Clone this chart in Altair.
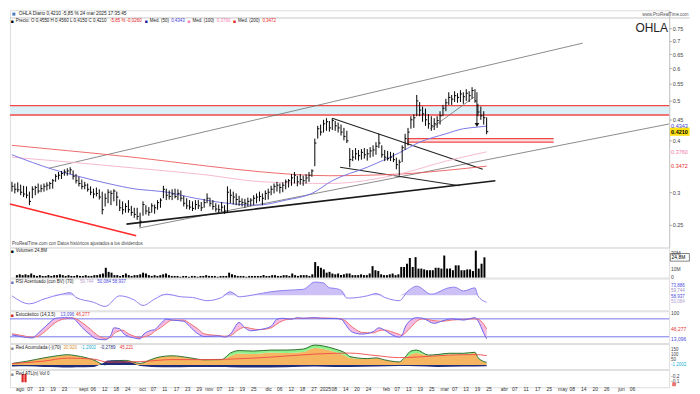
import altair as alt
import pandas as pd

FONT = "Liberation Sans"

# ---------------- price bars (daily, Aug 2024 -> 24 Mar 2025) ----------------
high = [0.318, 0.315, 0.317, 0.313, 0.311, 0.310, 0.301, 0.310, 0.311, 0.315,
        0.313, 0.315, 0.317, 0.318, 0.323, 0.332, 0.336, 0.338, 0.341, 0.343,
        0.345, 0.339, 0.332, 0.327, 0.322, 0.318, 0.315, 0.310, 0.306, 0.308,
        0.305, 0.301, 0.298, 0.305, 0.303, 0.305, 0.301, 0.288, 0.285, 0.282,
        0.287, 0.278, 0.275, 0.275, 0.2675, 0.285, 0.279, 0.276, 0.282, 0.280,
        0.287, 0.290, 0.311, 0.306, 0.303, 0.305, 0.306, 0.305, 0.303, 0.294,
        0.290, 0.287, 0.285, 0.287, 0.287, 0.284, 0.289, 0.298, 0.291, 0.287,
        0.282, 0.280, 0.284, 0.279, 0.310, 0.305, 0.301, 0.298, 0.294, 0.290,
        0.289, 0.291, 0.290, 0.295, 0.298, 0.301, 0.298, 0.303, 0.306, 0.311,
        0.315, 0.318, 0.315, 0.317, 0.322, 0.323, 0.332, 0.336, 0.329, 0.332,
        0.329, 0.332, 0.336, 0.341, 0.405, 0.435, 0.438, 0.450, 0.454, 0.447,
        0.454, 0.447, 0.443, 0.438, 0.430, 0.423, 0.384, 0.380, 0.384, 0.380,
        0.382, 0.384, 0.382, 0.386, 0.390, 0.397, 0.416, 0.390, 0.380, 0.378,
        0.376, 0.374, 0.364, 0.360, 0.390, 0.416, 0.430, 0.459, 0.464, 0.517,
        0.497, 0.4845, 0.479, 0.464, 0.459, 0.454, 0.459, 0.472, 0.489, 0.506,
        0.525, 0.517, 0.528, 0.522, 0.531, 0.525, 0.534, 0.528, 0.540, 0.534,
        0.492, 0.4845, 0.472, 0.456]
low = [0.301, 0.298, 0.300, 0.295, 0.292, 0.290, 0.279, 0.290, 0.295, 0.298,
       0.300, 0.301, 0.303, 0.305, 0.306, 0.318, 0.322, 0.323, 0.329, 0.329,
       0.332, 0.322, 0.315, 0.310, 0.305, 0.305, 0.301, 0.295, 0.290, 0.293,
       0.288, 0.265, 0.277, 0.282, 0.279, 0.285, 0.278, 0.270, 0.265, 0.2675,
       0.2675, 0.263, 0.260, 0.257, 0.247, 0.263, 0.265, 0.263, 0.2675, 0.266,
       0.272, 0.275, 0.290, 0.287, 0.288, 0.287, 0.290, 0.287, 0.285, 0.277,
       0.273, 0.272, 0.270, 0.272, 0.273, 0.270, 0.275, 0.282, 0.277, 0.272,
       0.269, 0.2675, 0.269, 0.266, 0.2675, 0.282, 0.280, 0.279, 0.278, 0.277,
       0.275, 0.277, 0.278, 0.279, 0.282, 0.285, 0.279, 0.287, 0.288, 0.295,
       0.298, 0.301, 0.298, 0.300, 0.305, 0.308, 0.311, 0.315, 0.310, 0.313,
       0.311, 0.315, 0.318, 0.327, 0.347, 0.405, 0.412, 0.419, 0.423, 0.421,
       0.425, 0.423, 0.419, 0.412, 0.401, 0.395, 0.345, 0.357, 0.360, 0.358,
       0.360, 0.362, 0.358, 0.364, 0.366, 0.370, 0.384, 0.364, 0.357, 0.358,
       0.357, 0.355, 0.341, 0.329, 0.355, 0.380, 0.390, 0.428, 0.430, 0.459,
       0.459, 0.445, 0.435, 0.428, 0.423, 0.425, 0.430, 0.438, 0.459, 0.472,
       0.489, 0.489, 0.497, 0.495, 0.497, 0.492, 0.500, 0.497, 0.506, 0.495,
       0.459, 0.450, 0.438, 0.415]
close = [0.310, 0.305, 0.304, 0.300, 0.297, 0.295, 0.285, 0.305, 0.308, 0.302,
         0.306, 0.310, 0.312, 0.315, 0.320, 0.328, 0.330, 0.333, 0.336, 0.338,
         0.340, 0.328, 0.320, 0.315, 0.310, 0.312, 0.305, 0.300, 0.297, 0.298,
         0.292, 0.272, 0.290, 0.300, 0.298, 0.302, 0.292, 0.275, 0.272, 0.277,
         0.272, 0.268, 0.265, 0.262, 0.255, 0.280, 0.270, 0.268, 0.278, 0.275,
         0.283, 0.287, 0.305, 0.295, 0.293, 0.297, 0.293, 0.298, 0.290, 0.282,
         0.278, 0.276, 0.274, 0.280, 0.278, 0.275, 0.283, 0.290, 0.282, 0.277,
         0.273, 0.272, 0.276, 0.270, 0.300, 0.295, 0.292, 0.288, 0.285, 0.283,
         0.282, 0.285, 0.287, 0.290, 0.292, 0.293, 0.290, 0.298, 0.300, 0.305,
         0.310, 0.312, 0.308, 0.312, 0.318, 0.320, 0.325, 0.330, 0.318, 0.322,
         0.320, 0.325, 0.330, 0.338, 0.395, 0.428, 0.420, 0.440, 0.445, 0.430,
         0.448, 0.435, 0.430, 0.420, 0.410, 0.400, 0.360, 0.365, 0.372, 0.368,
         0.375, 0.370, 0.372, 0.378, 0.380, 0.388, 0.395, 0.370, 0.365, 0.362,
         0.365, 0.360, 0.350, 0.355, 0.385, 0.405, 0.420, 0.450, 0.455, 0.500,
         0.475, 0.465, 0.450, 0.440, 0.435, 0.440, 0.448, 0.460, 0.480, 0.495,
         0.510, 0.505, 0.515, 0.510, 0.520, 0.512, 0.522, 0.515, 0.530, 0.500,
         0.470, 0.460, 0.455, 0.421]
volume_m = [3, 4, 3, 4, 3, 5, 3, 2, 3, 2,
            2, 3, 2, 3, 3, 4, 3, 2, 3, 2,
            2, 3, 2, 2, 3, 2, 2, 3, 3, 4,
            5, 12, 7, 6, 3, 3, 2, 3, 5, 3,
            2, 3, 3, 4, 6, 5, 3, 2, 3, 2,
            3, 4, 5, 3, 2, 2, 2, 1, 2, 2,
            1, 2, 2, 1, 2, 2, 3, 2, 2, 2,
            1, 2, 2, 2, 6, 4, 3, 2, 2, 2,
            1, 2, 2, 2, 2, 2, 3, 2, 2, 3,
            3, 2, 2, 3, 3, 2, 5, 3, 2, 3,
            3, 3, 2, 4, 19, 14, 12, 10, 6, 7,
            5, 4, 5, 3, 4, 5, 5, 3, 3, 3,
            4, 3, 3, 5, 14, 9, 8, 4, 3, 3,
            4, 5, 3, 4, 13, 13, 17, 24, 13, 25,
            11, 11, 10, 9, 9, 9, 12, 12, 11, 27,
            11, 11, 9, 15, 15, 9, 9, 10, 10, 8,
            33, 11, 17, 24.8]
N = len(close)
assert len(high) == N and len(low) == N and len(volume_m) == N

# ---------------- moving averages (read at sparse points) ----------------
ma50_idx = [0, 14, 22, 33, 43, 52, 63, 74, 84, 94, 103, 110, 122, 133, 140, 149, 155, 160, 163]
ma50_val = [0.370, 0.341, 0.329, 0.315, 0.305, 0.301, 0.290, 0.282, 0.279, 0.287,
            0.298, 0.320, 0.345, 0.374, 0.397, 0.416, 0.428, 0.432, 0.4343]
ma100_idx = [0, 20, 43, 66, 86, 109, 133, 149, 163]
ma100_val = [0.365, 0.355, 0.343, 0.331, 0.318, 0.315, 0.332, 0.357, 0.376]
ma200_idx = [0, 20, 43, 66, 86, 109, 133, 149, 163]
ma200_val = [0.390, 0.378, 0.364, 0.348, 0.336, 0.329, 0.332, 0.339, 0.3472]

# ---------------- drawn trend lines (bar index, price) ----------------
thin_x0 = [12.67, 43.67, 143.7]
thin_p0 = [0.343, 0.2455, 0.428]
thin_x1 = [196.0, 225.6, 158.7]
thin_p1 = [0.691, 0.4395, 0.511]
wedge_x0 = [110.0, 112.67]
wedge_p0 = [0.454, 0.345]
wedge_x1 = [161.67, 153.67]
wedge_p1 = [0.341, 0.311]
support_x = [39.33, 166.0]
support_p = [0.2509, 0.3198]
down_x = [-0.67, 42.67]
down_p = [0.2809, 0.2351]
resist_levels = [0.487, 0.462]
box_levels = [0.405, 0.397]
box_from, box_to = 136, 186

# ---------------- indicators (read at sparse points) ----------------
rsi_idx = [0, 6, 11, 17, 20, 22, 28, 32, 37, 42, 45, 49, 53, 58, 62, 67, 72, 75, 78, 83,
           89, 94, 100, 104, 107, 109, 111, 113, 115, 116, 122, 125, 128, 133, 136, 139,
           144, 150, 152, 155, 159, 160, 163]
rsi_val = [56.4, 36.2, 48.3, 60.5, 64.4, 52.3, 40.2, 29.7, 56.4, 45.9, 32.1, 48.3, 60.5,
           53.9, 52.3, 44.2, 52.3, 66.8, 53.9, 58.8, 66.8, 70.2, 72.6, 91, 88.6, 76.5, 75,
           70.2, 50.8, 50.8, 56.4, 62, 52.3, 44.2, 68.5, 80.6, 60.5, 76.5, 78.2, 68.5,
           76.5, 56.4, 40.2]

sto_idx = [0, 3, 7, 9, 11, 13, 15, 18, 21, 22, 24, 27, 29, 32, 34, 35, 37, 38, 40, 42,
           44, 45, 48, 49, 51, 53, 55, 59, 61, 64, 66, 71, 73, 75, 78, 80, 82, 85, 89, 91,
           93, 96, 98, 100, 104, 106, 111, 113, 115, 116, 118, 120, 124, 126, 128, 130,
           133, 134, 135, 137, 139, 141, 145, 148, 151, 155, 159, 160, 162, 163]
sto_k = [26, 21, 16, 32, 50, 68, 82, 84, 82, 74, 52, 26, 13, 10, 26, 50, 47, 34, 21, 16,
         13, 26, 42, 44, 63, 79, 76, 72, 55, 29, 21, 23, 19, 29, 68, 50, 40, 44, 55, 79,
         82, 79, 84, 82, 84, 82, 81, 79, 55, 42, 32, 29, 37, 50, 42, 29, 19, 26, 52, 76,
         84, 82, 65, 74, 80, 76, 84, 74, 32, 13.1]
sto_d = [30, 25, 19, 22, 35, 52, 68, 80, 83, 80, 68, 45, 28, 15, 18, 30, 40, 42, 30, 22,
         17, 19, 30, 38, 50, 65, 76, 76, 65, 45, 30, 24, 22, 24, 45, 52, 48, 44, 50, 63,
         74, 80, 82, 82, 83, 83, 82, 80, 70, 60, 45, 35, 33, 40, 43, 38, 28, 25, 32, 52,
         72, 80, 74, 72, 76, 78, 80, 79, 62, 46.3]

ra_idx = [0, 5, 11, 16, 19, 22, 28, 32, 34, 39, 44, 48, 51, 55, 61, 66, 72, 75, 78, 83,
          89, 94, 100, 104, 107, 111, 115, 116, 122, 125, 128, 133, 135, 137, 139, 143,
          146, 150, 155, 159, 160, 163]
ra_orange = [14, 35, 70, 90, 100, 90, 50, 0, 40, 45, 15, 55, 80, 90, 70, 50, 50, 90, 115,
             110, 125, 120, 130, 170, 160, 130, 85, 70, 60, 70, 50, 30, 70, 107, 120, 95,
             95, 107, 107, 120, 70, 25]
ra_green = [16, 38, 72, 95, 104, 94, 52, 2, 42, 47, 17, 58, 83, 93, 73, 53, 55, 120, 145,
            140, 150, 150, 160, 200, 190, 160, 110, 85, 65, 72, 52, 32, 80, 140, 150, 100,
            105, 118, 118, 128, 75, 27]
nv_idx = [0, 5, 11, 16, 19, 22, 28, 31, 33, 36, 39, 42, 44, 48, 55, 61, 66, 72, 75, 83,
          94, 104, 111, 116, 125, 133, 139, 146, 155, 163]
nv_val = [-15, -12, -20, -22, -25, -22, -18, 15, 45, 45, 40, 15, -10, -18, -22, -20, -18,
          -20, -22, -25, -22, -15, -20, -20, -15, -10, -12, -18, -15, -12]
rs_idx = [0, 11, 19, 28, 33, 44, 55, 66, 75, 89, 104, 116, 125, 133, 139, 150, 159, 163]
rs_val = [15, 40, 70, 60, 30, 35, 55, 55, 60, 80, 110, 120, 95, 75, 80, 100, 105, 95]

atl_idx = [2, 3]
atl_val = [1, 1]

price_ticks = [0.25, 0.3, 0.4, 0.45, 0.5, 0.55, 0.6, 0.65, 0.7, 0.75]

# ---------------- date axis labels (trading calendar) ----------------
MONTHS = {8: "ago", 9: "sept", 10: "oct", 11: "nov", 12: "dic", 1: "2025",
          2: "feb", 3: "mar", 4: "abr", 5: "may", 6: "jun", 7: "jul"}
holidays = pd.to_datetime(["2024-12-24", "2024-12-25", "2024-12-26", "2025-01-01",
                           "2025-04-18", "2025-04-21", "2025-05-01"])
days = pd.bdate_range("2024-08-01", "2025-07-31")
days = days[~days.isin(holidays)]
LAST_LABEL = 217
starts = [i for i in range(len(days)) if i == 0 or days[i].month != days[i - 1].month]
lab_idx, lab_txt = [], []
for k, s in enumerate(starts):
    if s > LAST_LABEL:
        break
    nxt = starts[k + 1] if k + 1 < len(starts) else len(days)
    lab_idx.append(s)
    lab_txt.append(MONTHS[days[s].month])
    pos = s + 4
    while pos <= nxt - 3 and pos <= LAST_LABEL:
        lab_idx.append(pos)
        lab_txt.append(f"{days[pos].day:02d}")
        pos += 4

# ---------------- layout helpers (page has an 8px margin: scale the 700x394 design) ----------------
SX = 684 / 700
SY = 0.97


def RX(v):
    return v * SX


def RY(v, top=0):
    return (v - top) * SY


W = 679 * SX
X0, X1 = -0.67, 225.67
XS = alt.Scale(domain=[X0, X1], nice=False, zero=False)
ONE = pd.DataFrame({"a": [0]})


def ex(f):
    return alt.X(f, type="quantitative", scale=XS, axis=None)


def txt(px, py, text, color="#222", size=5, weight="normal", align="left", top=0):
    return alt.Chart(ONE).mark_text(text=text, color=color, fontSize=size, fontWeight=weight,
                                    align=align, baseline="middle", font=FONT).encode(
        x=alt.value(RX(px)), y=alt.value(RY(py, top)))


TAG_X = RX(681)
BOX_X = RX(690)

# ================= MAIN PRICE PANEL =================
PS = alt.Scale(type="log", domain=[0.2204, 0.8306], nice=False)
PAX = alt.Axis(orient="right", values=price_ticks, format=".2~f", title=None,
               labelFontSize=5.5, tickSize=2, grid=False, domainColor="#c8c8c8",
               tickColor="#999", labelColor="#444", labelPadding=1, labelFont=FONT)


def py(f):
    return alt.Y(f, type="quantitative", scale=PS, axis=PAX)


price = pd.DataFrame({"idx": list(range(N)), "high": high, "low": low, "close": close})

lev_fill = pd.DataFrame({"x0": [X0], "x1": [X1], "p0": [resist_levels[0]], "p1": [resist_levels[1]]})
lev = pd.DataFrame({"x0": [X0, X0], "x1": [X1, X1], "p": resist_levels})
box_fill = pd.DataFrame({"x0": [box_from], "x1": [box_to], "p0": [box_levels[0]], "p1": [box_levels[1]]})
box = pd.DataFrame({"x0": [box_from, box_from], "x1": [box_to, box_to], "p": box_levels})
box_v = pd.DataFrame({"x": [box_from], "p0": [box_levels[0]], "p1": [0.390]})

layers = []
layers.append(alt.Chart(lev_fill).mark_rect(color="#dcf1f7").encode(
    x=ex("x0"), x2=alt.X2("x1"), y=py("p0"), y2=alt.Y2("p1")))
layers.append(alt.Chart(box_fill).mark_rect(color="#fbe3e3").encode(
    x=ex("x0"), x2=alt.X2("x1"), y=py("p0"), y2=alt.Y2("p1")))
layers.append(alt.Chart(lev).mark_rule(color="#f04848", strokeWidth=1.4).encode(
    x=ex("x0"), x2=alt.X2("x1"), y=py("p")))
layers.append(alt.Chart(box).mark_rule(color="#f04848", strokeWidth=1.2).encode(
    x=ex("x0"), x2=alt.X2("x1"), y=py("p")))
layers.append(alt.Chart(box_v).mark_rule(color="#f04848", strokeWidth=1.2).encode(
    x=ex("x"), y=py("p0"), y2=alt.Y2("p1")))

thin = pd.DataFrame({"x0": thin_x0, "p0": thin_p0, "x1": thin_x1, "p1": thin_p1})
layers.append(alt.Chart(thin).mark_rule(color="#6e6e6e", strokeWidth=0.8).encode(
    x=ex("x0"), x2=alt.X2("x1"), y=py("p0"), y2=alt.Y2("p1")))
wedge = pd.DataFrame({"x0": wedge_x0, "p0": wedge_p0, "x1": wedge_x1, "p1": wedge_p1})
layers.append(alt.Chart(wedge).mark_rule(color="#222", strokeWidth=1.1).encode(
    x=ex("x0"), x2=alt.X2("x1"), y=py("p0"), y2=alt.Y2("p1")))
sup = pd.DataFrame({"x0": [support_x[0]], "p0": [support_p[0]], "x1": [support_x[1]], "p1": [support_p[1]]})
layers.append(alt.Chart(sup).mark_rule(color="#1a1a1a", strokeWidth=1.6).encode(
    x=ex("x0"), x2=alt.X2("x1"), y=py("p0"), y2=alt.Y2("p1")))
dwn = pd.DataFrame({"x0": [down_x[0]], "p0": [down_p[0]], "x1": [down_x[1]], "p1": [down_p[1]]})
layers.append(alt.Chart(dwn).mark_rule(color="#ff2a2a", strokeWidth=1.5).encode(
    x=ex("x0"), x2=alt.X2("x1"), y=py("p0"), y2=alt.Y2("p1")))

for ix, vals, col, sw in [(ma200_idx, ma200_val, "#ec5a5a", 0.9),
                          (ma100_idx, ma100_val, "#f5b3c8", 0.9),
                          (ma50_idx, ma50_val, "#7b78e3", 1.0)]:
    d = pd.DataFrame({"idx": ix, "v": vals})
    layers.append(alt.Chart(d).mark_line(color=col, strokeWidth=sw, interpolate="monotone").encode(
        x=ex("idx"), y=py("v")))

layers.append(alt.Chart(price).mark_rule(color="#000", strokeWidth=1).encode(
    x=ex("idx"), y=py("low"), y2=alt.Y2("high")))
layers.append(alt.Chart(price).transform_calculate(idx2="datum.idx + 0.55").mark_rule(
    color="#000", strokeWidth=1).encode(x=ex("idx"), x2=alt.X2("idx2"), y=py("close")))

arrow = pd.DataFrame({"x": [159.67], "p0": [0.525], "p1": [0.440]})
layers.append(alt.Chart(arrow).mark_rule(color="#111", strokeWidth=1).encode(
    x=ex("x"), y=py("p0"), y2=alt.Y2("p1")))
layers.append(alt.Chart(pd.DataFrame({"x": [159.67], "p": [0.437]})).mark_point(
    shape="triangle-down", filled=True, color="#111", size=22, opacity=1).encode(x=ex("x"), y=py("p")))

# right-side price tags
layers.append(alt.Chart(pd.DataFrame({"p": [0.421]})).mark_point(
    shape="M -1 -0.42 L 1 -0.42 L 1 0.42 L -1 0.42 Z", filled=True, color="#ffe014",
    size=390, opacity=1).encode(x=alt.value(BOX_X), y=py("p")))
tags = pd.DataFrame({"p": [0.4343, 0.421, 0.376, 0.3472],
                     "t": ["0.4343", "0.4210", "0.3760", "0.3472"],
                     "c": ["#3c3cd8", "#000000", "#f07aa8", "#e83030"]})
for _, r in tags.iterrows():
    d = pd.DataFrame({"p": [r.p], "t": [r.t]})
    layers.append(alt.Chart(d).mark_text(color=r.c, fontSize=5.5, align="left", baseline="middle",
                                         font=FONT, fontWeight="bold" if r.t == "0.4210" else "normal").encode(
        x=alt.value(TAG_X), y=py("p"), text="t:N"))

# header texts
layers.append(alt.Chart(ONE).mark_rule(color="#c9c9c9", strokeWidth=1).encode(
    x=alt.value(0), x2=alt.value(RX(700)), y=alt.value(RY(8))))
layers.append(alt.Chart(ONE).mark_point(shape="square", filled=True, color="#4a78c0", size=9,
                                        opacity=1).encode(x=alt.value(RX(4)), y=alt.value(RY(4))))
layers += [
    txt(9, 4, "OHLA Diario 0,4210 -5,85 % 24 mar 2025 17:35:45", "#222", 4.8),
    txt(699, 5, "www.ProRealTime.com", "#555", 4.5, align="right"),
    txt(1, 11.5, "■", "#000", 5),
    txt(6, 11.5, "Precio: O 0,4550 H 0,4560 L 0,4150 C 0,4210", "#222", 4.5),
    txt(103, 11.5, "-5,85 % -0,0260", "#e02020", 4.5),
    txt(139, 11.5, "■", "#1a1aa0", 5),
    txt(144, 11.5, "Med. (50)", "#222", 4.5),
    txt(166, 11.5, "0,4343", "#3c3cd8", 4.5),
    txt(183, 11.5, "■", "#f080c0", 5),
    txt(188, 11.5, "Med. (100)", "#222", 4.5),
    txt(213, 11.5, "0,3760", "#f07aa8", 4.5),
    txt(230, 11.5, "■", "#e82020", 5),
    txt(235, 11.5, "Med. (200)", "#222", 4.5),
    txt(260, 11.5, "0,3472", "#e82020", 4.5),
    txt(661, 18, "OHLA", "#222", 12, align="center"),
    txt(2, 243, "ProRealTime.com con Datos históricos ajustados a los dividendos", "#444", 4.5),
]
main = alt.layer(*layers).properties(width=W, height=RY(246))

# ================= VOLUME =================
VS = alt.Scale(domain=[0, 36.6], nice=False, zero=False)
vol = pd.DataFrame({"idx": list(range(N)), "v": volume_m})
vl = [alt.Chart(vol).mark_bar(size=2, color="#000").encode(
    x=ex("idx"), y=alt.Y("v:Q", scale=VS, axis=None))]
vtags = pd.DataFrame({"v": [30, 10, 1.2], "t": ["30M", "10M", "0"]})
vl.append(alt.Chart(vtags).mark_text(fontSize=5, color="#444", align="left", baseline="middle",
                                     font=FONT).encode(x=alt.value(TAG_X), y=alt.Y("v:Q", scale=VS, axis=None),
                                                       text="t:N"))
vl.append(alt.Chart(pd.DataFrame({"v": [24.8]})).mark_point(
    shape="M -1 -0.4 L 1 -0.4 L 1 0.4 L -1 0.4 Z", filled=False, color="#333", strokeWidth=0.6,
    size=370, opacity=1).encode(x=alt.value(BOX_X), y=alt.Y("v:Q", scale=VS, axis=None)))
vl.append(alt.Chart(pd.DataFrame({"v": [24.8], "t": ["24,8M"]})).mark_text(
    fontSize=5, color="#000", align="left", baseline="middle", font=FONT).encode(
    x=alt.value(TAG_X + 0.5), y=alt.Y("v:Q", scale=VS, axis=None), text="t:N"))
vl += [txt(1, 3.5, "■", "#000", 5), txt(6, 3.5, "Volumen 24,8M", "#222", 4.5)]
volp = alt.layer(*vl).properties(width=W, height=RY(31))

# ================= RSI =================
RS = alt.Scale(domain=[20, 100], nice=False, zero=False)
rsi = pd.DataFrame({"idx": rsi_idx, "r": rsi_val})
rl = [
    alt.Chart(rsi).transform_calculate(hi="max(datum.r, 58)", base="58").mark_area(
        color="#c9bdf6", opacity=0.95, interpolate="monotone").encode(
        x=ex("idx"), y=alt.Y("hi:Q", scale=RS, axis=None), y2=alt.Y2("base")),
    alt.Chart(rsi).mark_line(color="#8c7ff0", strokeWidth=1, interpolate="monotone").encode(
        x=ex("idx"), y=alt.Y("r:Q", scale=RS, axis=None)),
]
rtags = pd.DataFrame({"v": [81, 67.5, 54, 40.5], "t": ["73,886", "59,744", "58,937", "50,084"],
                      "c": ["#4a4ae0", "#a090c0", "#4a4ae0", "#b0a0d0"]})
for _, r in rtags.iterrows():
    rl.append(alt.Chart(pd.DataFrame({"v": [r.v], "t": [r.t]})).mark_text(
        fontSize=4.5, color=r.c, align="left", baseline="middle", font=FONT).encode(
        x=alt.value(TAG_X), y=alt.Y("v:Q", scale=RS, axis=None), text="t:N"))
rl += [txt(1, 3.5, "■", "#7070c0", 5),
       txt(6, 3.5, "RSI Acentuado (con BV) (70)", "#222", 4.5),
       txt(72, 3.5, "59,744", "#c0a0d0", 4.5),
       txt(90, 3.5, "50,084  58,937", "#4a4ae0", 4.5)]
rsip = alt.layer(*rl).properties(width=W, height=RY(33))

# ================= STOCHASTIC =================
SS = alt.Scale(domain=[-1, 105.4], nice=False, zero=False)
sto = pd.DataFrame({"idx": sto_idx, "k": sto_k, "d": sto_d})
sl = [
    alt.Chart(pd.DataFrame({"v": [20, 80]})).mark_rule(color="#7676ee", strokeWidth=1).encode(
        y=alt.Y("v:Q", scale=SS, axis=None)),
    alt.Chart(sto).mark_area(color="#f0a6d8", opacity=0.75, interpolate="monotone").encode(
        x=ex("idx"), y=alt.Y("k:Q", scale=SS, axis=None), y2=alt.Y2("d")),
    alt.Chart(sto).mark_line(color="#f07070", strokeWidth=1, interpolate="monotone").encode(
        x=ex("idx"), y=alt.Y("d:Q", scale=SS, axis=None)),
    alt.Chart(sto).mark_line(color="#6a66ee", strokeWidth=1, interpolate="monotone").encode(
        x=ex("idx"), y=alt.Y("k:Q", scale=SS, axis=None)),
]
stags = pd.DataFrame({"v": [100, 46.3, 13.1], "t": ["100", "46,277", "13,096"],
                      "c": ["#444", "#e83030", "#4a4ae0"]})
for _, r in stags.iterrows():
    sl.append(alt.Chart(pd.DataFrame({"v": [r.v], "t": [r.t]})).mark_text(
        fontSize=5, color=r.c, align="left", baseline="middle", font=FONT).encode(
        x=alt.value(TAG_X), y=alt.Y("v:Q", scale=SS, axis=None), text="t:N"))
sl += [txt(1, 3.5, "■", "#d02020", 5),
       txt(6, 3.5, "Estocástico (14,3,5)", "#222", 4.5),
       txt(52, 3.5, "13,096", "#4a4ae0", 4.5),
       txt(68, 3.5, "46,277", "#e83030", 4.5)]
stop = alt.layer(*sl).properties(width=W, height=RY(33))

# ================= RED ACUMULADA =================
AS = alt.Scale(domain=[-40, 210], nice=False, zero=False)
ra = pd.DataFrame({"idx": ra_idx, "o": ra_orange, "g": ra_green})
nv = pd.DataFrame({"idx": nv_idx, "n": nv_val})
rsig = pd.DataFrame({"idx": rs_idx, "s": rs_val})
al = [
    alt.Chart(ra).transform_calculate(z="0").mark_area(color="#f6b560", interpolate="monotone").encode(
        x=ex("idx"), y=alt.Y("o:Q", scale=AS, axis=None), y2=alt.Y2("z")),
    alt.Chart(ra).mark_area(color="#8ef08a", interpolate="monotone").encode(
        x=ex("idx"), y=alt.Y("g:Q", scale=AS, axis=None), y2=alt.Y2("o")),
    alt.Chart(ra).mark_line(color="#2f6f2f", strokeWidth=1, interpolate="monotone").encode(
        x=ex("idx"), y=alt.Y("g:Q", scale=AS, axis=None)),
    alt.Chart(nv).transform_calculate(z="0").mark_area(color="#1e2c7a", interpolate="monotone").encode(
        x=ex("idx"), y=alt.Y("n:Q", scale=AS, axis=None), y2=alt.Y2("z")),
    alt.Chart(rsig).mark_line(color="#f04848", strokeWidth=0.9, interpolate="monotone").encode(
        x=ex("idx"), y=alt.Y("s:Q", scale=AS, axis=None)),
]
atags = pd.DataFrame({"v": [150, 100, 50, 0], "t": ["150", "100", "50", "-1,2002"],
                      "c": ["#444", "#444", "#444", "#20b0d0"]})
for _, r in atags.iterrows():
    al.append(alt.Chart(pd.DataFrame({"v": [r.v], "t": [r.t]})).mark_text(
        fontSize=4.5, color=r.c, align="left", baseline="middle", font=FONT).encode(
        x=alt.value(TAG_X), y=alt.Y("v:Q", scale=AS, axis=None), text="t:N"))
al += [txt(1, 4, "■", "#8a8a8a", 5),
       txt(6, 4, "Red Acumulada (-)(70)", "#222", 4.5),
       txt(55, 4, "20,920", "#e09030", 4.5),
       txt(73, 4, "-1,2002", "#20b0d0", 4.5),
       txt(93, 4, "-0,2789", "#1e2c7a", 4.5),
       txt(113, 4, "45,221", "#e83030", 4.5)]
rap = alt.layer(*al).properties(width=W, height=RY(26))

# ================= RED ATL + DATE LABELS =================
TS = alt.Scale(domain=[-0.6, 1.5], nice=False, zero=False)
atl = pd.DataFrame({"idx": atl_idx, "v": atl_val})
labs = pd.DataFrame({"idx": lab_idx, "t": lab_txt})
tl = [
    alt.Chart(atl).transform_calculate(z="0").mark_bar(size=2.2, color="#e02020").encode(
        x=ex("idx"), y=alt.Y("v:Q", scale=TS, axis=None), y2=alt.Y2("z")),
    alt.Chart(labs).mark_text(fontSize=5, color="#333", align="left", baseline="middle", font=FONT,
                              dx=-1).encode(x=ex("idx"), y=alt.value(RY(20)), text="t:N"),
    txt(1, 4, "■", "#8a8a8a", 5),
    txt(6, 4, "Red ATL(n) Vol 0", "#222", 4.5),
    txt(681, 6, "-0,2", "#444", 5),
    txt(681, 12, "-0,1", "#444", 5),
    alt.Chart(ONE).mark_point(shape="square", filled=True, color="#f07070", size=14, opacity=1).encode(
        x=alt.value(RX(684)), y=alt.value(RY(15))),
]
atlp = alt.layer(*tl).properties(width=W, height=RY(18))

chart = alt.vconcat(main, volp, rsip, stop, rap, atlp, spacing=0, bounds="flush").properties(
    padding=0
).configure_view(stroke="#d4d4d4", strokeWidth=0.8).configure(font=FONT)

chart.save("out.html", embed_options={"renderer": "svg", "actions": False})
